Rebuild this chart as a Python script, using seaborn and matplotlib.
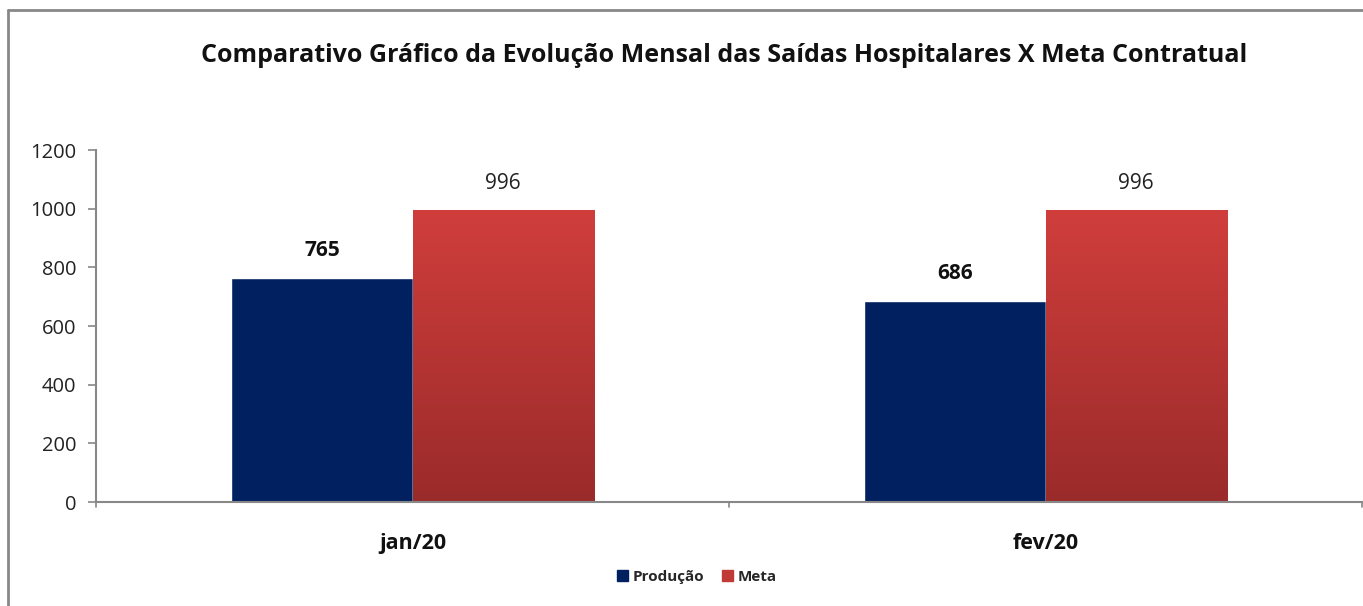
import numpy as np
import pandas as pd
import matplotlib
matplotlib.use("Agg")
import matplotlib.pyplot as plt
import seaborn as sns
from matplotlib.lines import Line2D

categories = ["jan/20", "fev/20"]
producao = [765, 686]
meta = [996, 996]
series_names = ["Produção", "Meta"]
yticks = [0, 200, 400, 600, 800, 1000, 1200]

df = pd.DataFrame({
    "mes": categories * 2,
    "serie": [series_names[0]] * len(categories) + [series_names[1]] * len(categories),
    "valor": producao + meta,
})

sns.set_theme(style="white")
plt.rcParams["font.family"] = ["Open Sans", "DejaVu Sans"]

fig = plt.figure(figsize=(13.63, 6.06), dpi=100)
ax = fig.add_axes([96 / 1363, 1 - 502 / 606, (1362 - 96) / 1363, (502 - 150) / 606])

navy = "#00205F"
red_top = np.array([0xD0, 0x3E, 0x3C]) / 255
red_bot = np.array([0x9A, 0x2B, 0x2A]) / 255

sns.barplot(data=df, x="mes", y="valor", hue="serie", palette=[navy, "#C03A38"],
            width=0.572, saturation=1, ax=ax, legend=False, gap=0)

ax.set_ylim(0, 1200)
ax.set_xlim(-0.5, 1.5)
ax.set_yticks(yticks)
ax.set_yticklabels([str(t) for t in yticks], fontsize=14.5, color="#222222")
ax.set_xticks([0, 1])
ax.set_xticklabels(categories, fontsize=15.5, fontweight="bold", color="#111111")
ax.tick_params(axis="x", length=0, pad=22)
ax.tick_params(axis="y", length=6, width=1.2, color="#888888", left=True, pad=8)
for s in ["top", "right"]:
    ax.spines[s].set_visible(False)
for s in ["left", "bottom"]:
    ax.spines[s].set_color("#888888")
    ax.spines[s].set_linewidth(1.5)

# category boundary ticks on x axis
for xb in [-0.5, 0.5, 1.5]:
    ax.plot([xb, xb], [0, -18], color="#888888", lw=1.2, clip_on=False,
            transform=ax.transData)

# gradient for Meta bars
grad = np.linspace(0, 1, 256)[:, None]
cols = red_top[None, :] * (1 - grad) + red_bot[None, :] * grad
img = cols[:, None, :]
patches = ax.patches
n = len(categories)
for i, p in enumerate(patches):
    x0, y0 = p.get_x(), p.get_y()
    w, h = p.get_width(), p.get_height()
    if i >= n:
        im = ax.imshow(img, extent=[x0, x0 + w, y0, y0 + h], aspect="auto",
                       origin="upper", zorder=p.get_zorder() + 0.1)
        im.set_clip_path(p)
    cx = x0 + w / 2
    if i < n:
        ax.text(cx, h + 92, f"{int(producao[i])}", ha="center", va="center",
                fontsize=15, fontweight="bold", color="#111111")
    else:
        ax.text(cx, h + 89, f"{int(meta[i - n])}", ha="center", va="center",
                fontsize=15, color="#222222")
ax.set_xlim(-0.5, 1.5)
ax.set_ylim(0, 1200)
ax.set_xlabel("")
ax.set_ylabel("")

fig.text(724 / 1363, 1 - 56 / 606, "Comparativo Gráfico da Evolução Mensal das Saídas Hospitalares X Meta Contratual",
         ha="center", va="center", fontsize=18, fontweight="bold", color="#111111")

handles = [plt.Rectangle((0, 0), 1, 1, color=navy), plt.Rectangle((0, 0), 1, 1, color="#C03A38")]
fig.legend(handles, series_names, loc="center", bbox_to_anchor=(697 / 1363, 1 - 577 / 606),
           ncol=2, frameon=False, handlelength=0.7, handleheight=0.7,
           handletextpad=0.3, columnspacing=1.2, prop={"weight": "bold", "size": 11})

# outer border
fig.add_artist(Line2D([8 / 1363, 8 / 1363], [0, 1 - 10 / 606], color="#888888", lw=2,
                      transform=fig.transFigure))
fig.add_artist(Line2D([8 / 1363, 1], [1 - 10 / 606, 1 - 10 / 606], color="#888888", lw=2,
                      transform=fig.transFigure))

fig.savefig("out.png", dpi=100, facecolor="white")
